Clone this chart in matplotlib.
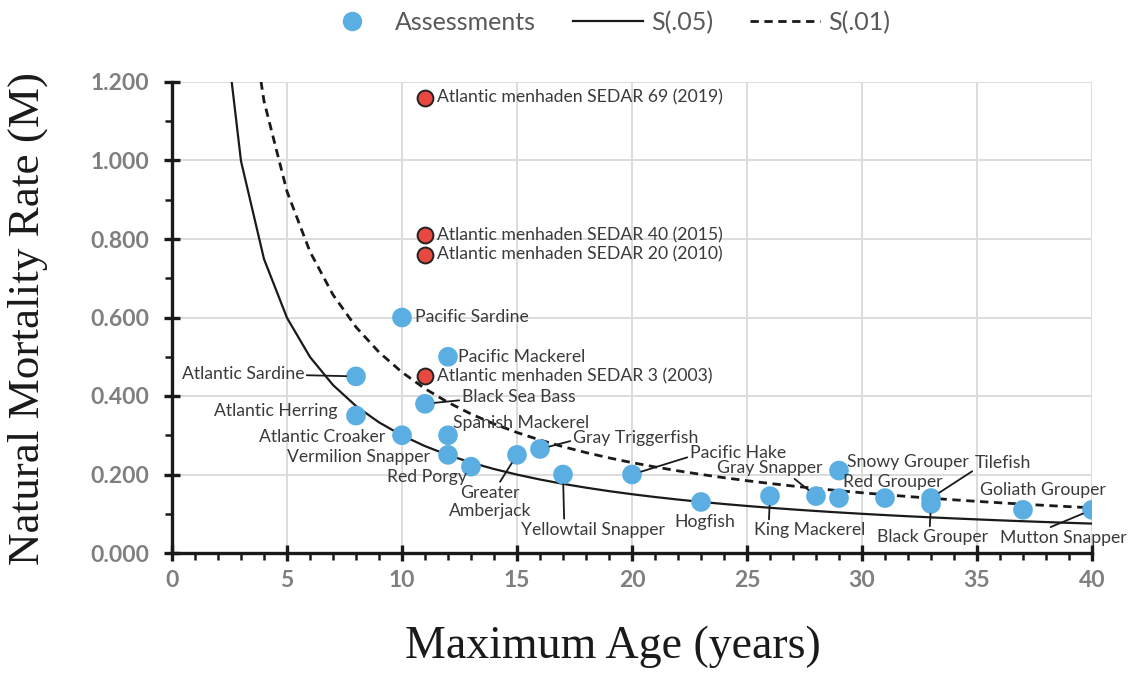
import numpy as np
import matplotlib
matplotlib.use("Agg")
import matplotlib.pyplot as plt
from matplotlib.lines import Line2D
from matplotlib.ticker import MultipleLocator, FormatStrFormatter

# ---- assessment data: maximum age (years) and natural mortality M ----
species = [
    "Pacific Sardine", "Pacific Mackerel", "Atlantic Sardine", "Black Sea Bass",
    "Atlantic Herring", "Atlantic Croaker", "Spanish Mackerel", "Vermilion Snapper",
    "Red Porgy", "Greater\nAmberjack", "Gray Triggerfish", "Yellowtail Snapper",
    "Pacific Hake", "Hogfish", "King Mackerel", "Gray Snapper", "Snowy Grouper",
    "", "Red Grouper", "Tilefish", "Black Grouper", "Goliath Grouper",
    "Mutton Snapper",
]
max_age = [10, 12, 8, 11, 8, 10, 12, 12, 13, 15, 16, 17, 20, 23, 26, 28, 29,
           29, 31, 33, 33, 37, 40]
nat_mort = [0.60, 0.50, 0.45, 0.38, 0.35, 0.30, 0.30, 0.25, 0.22, 0.25, 0.265,
            0.20, 0.20, 0.13, 0.145, 0.145, 0.21, 0.14, 0.14, 0.14, 0.125,
            0.11, 0.11]

menhaden_labels = [
    "Atlantic menhaden SEDAR 69 (2019)",
    "Atlantic menhaden SEDAR 40 (2015)",
    "Atlantic menhaden SEDAR 20 (2010)",
    "Atlantic menhaden SEDAR 3 (2003)",
]
menhaden_age = [11, 11, 11, 11]
menhaden_mort = [1.16, 0.81, 0.76, 0.45]

# ---- survivorship curves: M = -ln(S) / tmax ----
curve_ages = np.arange(1, 41)
survival_levels = [0.05, 0.01]
curve_names = ["S(.05)", "S(.01)"]

# label placement (pixel offsets from each point), alignment, leader anchor
label_style = {
    "Pacific Sardine": ((13, 0), "left", None),
    "Pacific Mackerel": ((10, 0), "left", None),
    "Atlantic Sardine": ((-52, 2), "right", (1.0, 0.45)),
    "Black Sea Bass": ((37, 7), "left", (0.0, 0.3)),
    "Atlantic Herring": ((-18, 5), "right", None),
    "Atlantic Croaker": ((-17, -2), "right", None),
    "Spanish Mackerel": ((5, 12), "left", None),
    "Vermilion Snapper": ((-18, -2), "right", None),
    "Red Porgy": ((-4, -10), "right", None),
    "Greater\nAmberjack": ((-27, -47), "center", (0.6, 1.0)),
    "Gray Triggerfish": ((33, 11), "left", (0.0, 0.35)),
    "Yellowtail Snapper": ((30, -55), "center", (0.3, 1.0)),
    "Pacific Hake": ((58, 22), "left", (0.0, 0.25)),
    "Hogfish": ((4, -20), "center", None),
    "King Mackerel": ((40, -34), "center", (0.13, 1.0)),
    "Gray Snapper": ((-46, 28), "center", (0.7, 0.0)),
    "Snowy Grouper": ((8, 9), "left", None),
    "Red Grouper": ((8, 16), "center", None),
    "Tilefish": ((44, 35), "left", (0.0, 0.1)),
    "Black Grouper": ((2, -33), "center", (0.47, 1.0)),
    "Goliath Grouper": ((20, 20), "center", None),
    "Mutton Snapper": ((-29, -28), "center", (0.35, 1.0)),
}

BLUE = "#5baee2"
RED = "#e8483f"
TEXT = "#3a3a3a"
TICK = "#7f7f7f"
LINE = "#1a1a1a"
LABEL_FONT = ["Lato", "DejaVu Sans"]
TITLE_FONT = ["Liberation Serif", "DejaVu Serif"]
LABEL_SIZE = 12.7

fig = plt.figure(figsize=(11.28, 6.75), dpi=100)
ax = fig.add_axes([172 / 1128, 1 - 553 / 675, 920 / 1128, 471 / 675])

ax.set_xlim(0, 40)
ax.set_ylim(0, 1.2)

# gridlines
ax.grid(True, which="major", color="#dcdcdc", lw=1.4, zorder=0)
ax.set_axisbelow(True)

# curves
curve_styles = [dict(ls="-", lw=1.6), dict(ls=(0, (3, 2)), lw=2.0)]
for s, st in zip(survival_levels, curve_styles):
    m = -np.log(s) / curve_ages
    ax.plot(curve_ages, m, color=LINE, zorder=2, **st)

# assessment points
ax.scatter(max_age, nat_mort, s=200, color=BLUE, edgecolor="none", zorder=4)
ax.scatter(menhaden_age, menhaden_mort, s=130, color=RED, edgecolor="#222222",
           lw=1.4, zorder=5)

# species labels
for name, x, y in zip(species, max_age, nat_mort):
    if not name:
        continue
    off, ha, rel = label_style[name]
    kw = dict(xy=(x, y), xytext=off, textcoords="offset pixels", ha=ha,
              va="center", fontsize=LABEL_SIZE, color=TEXT, family=LABEL_FONT,
              multialignment="center", linespacing=1.2, zorder=6)
    if rel is not None:
        kw["arrowprops"] = dict(arrowstyle="-", color=LINE, lw=1.3,
                                shrinkA=0, shrinkB=7, relpos=rel)
    ax.annotate(name, **kw)

for name, x, y in zip(menhaden_labels, menhaden_age, menhaden_mort):
    ax.annotate(name, xy=(x, y), xytext=(12, 0), textcoords="offset pixels",
                ha="left", va="center", fontsize=LABEL_SIZE, color=TEXT,
                family=LABEL_FONT, zorder=6)

# axes styling
for side in ("top", "right"):
    ax.spines[side].set_visible(False)
for side in ("left", "bottom"):
    ax.spines[side].set_linewidth(2.4)
    ax.spines[side].set_color(LINE)

ax.xaxis.set_major_locator(MultipleLocator(5))
ax.xaxis.set_minor_locator(MultipleLocator(1))
ax.yaxis.set_major_locator(MultipleLocator(0.2))
ax.yaxis.set_minor_locator(MultipleLocator(0.1))
ax.yaxis.set_major_formatter(FormatStrFormatter("%.3f"))

ax.tick_params(which="major", direction="inout", length=11, width=2.4,
               color=LINE, labelcolor=TICK, labelsize=16.5)
ax.tick_params(which="minor", direction="out", length=5, width=1.8,
               color=LINE)
ax.tick_params(axis="x", which="major", pad=7)
ax.tick_params(axis="y", which="major", pad=11)
for lab in ax.get_xticklabels() + ax.get_yticklabels():
    lab.set_family(LABEL_FONT)
    lab.set_fontweight("bold")

ax.set_xlabel("Maximum Age (years)", fontsize=33, family=TITLE_FONT,
              color=LINE)
ax.xaxis.label.set_va("center")
ax.xaxis.set_label_coords(0.479, -0.2)
ax.set_ylabel("Natural Mortality Rate (M)", fontsize=32.5, family=TITLE_FONT,
              color=LINE)
ax.yaxis.label.set_va("center")
ax.yaxis.set_label_coords(-0.157, 0.498)

# legend above the plot
handles = [
    Line2D([], [], ls="none", marker="o", ms=13, color=BLUE),
    Line2D([], [], color=LINE, **curve_styles[0]),
    Line2D([], [], color=LINE, **curve_styles[1]),
]
leg = fig.legend(handles, ["Assessments"] + curve_names, loc="center",
                 bbox_to_anchor=(0.535, 0.967), ncol=3, frameon=False,
                 handlelength=2.8, handletextpad=0.3, columnspacing=1.5,
                 prop={"family": LABEL_FONT, "size": 18})
for t in leg.get_texts():
    t.set_color("#595959")

fig.savefig("out.png", dpi=100, facecolor="white")
